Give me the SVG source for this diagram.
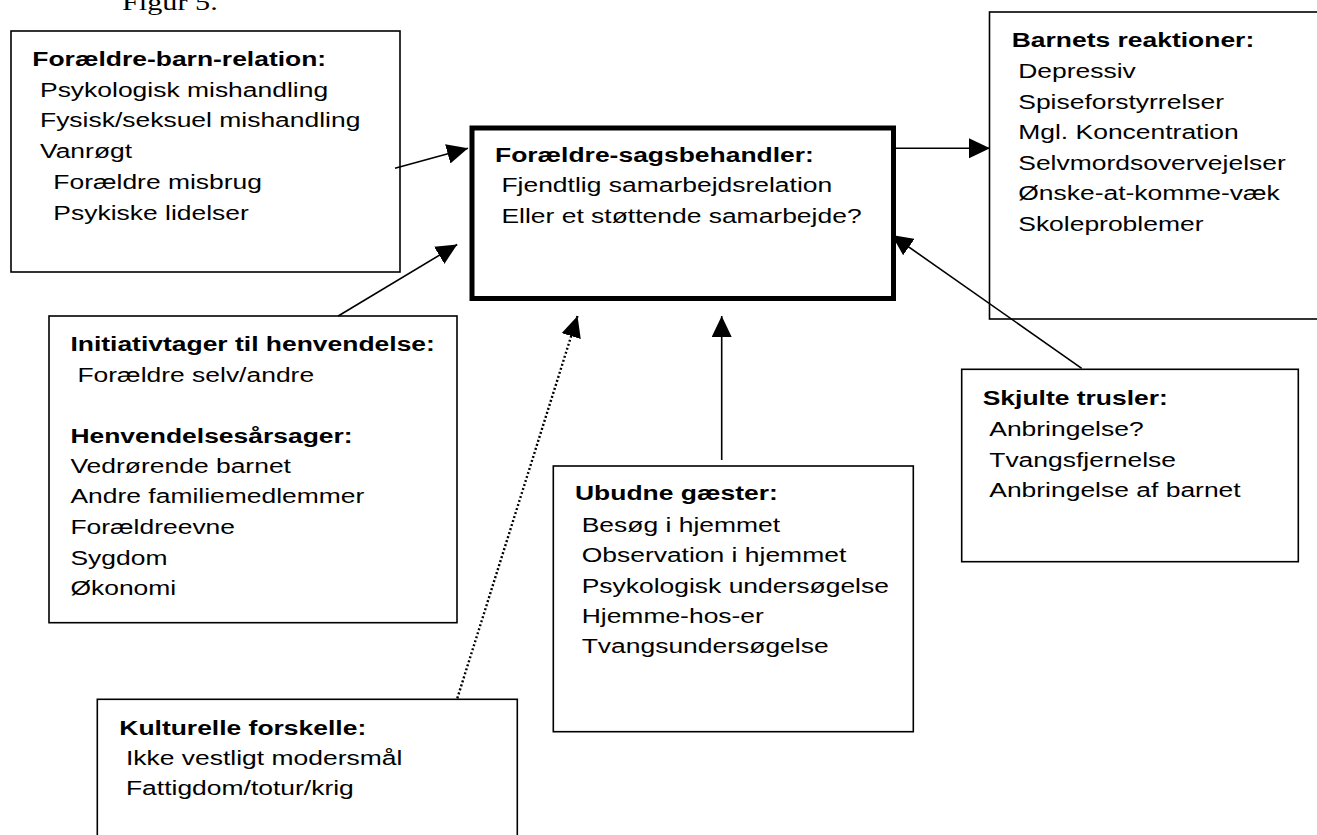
<svg xmlns="http://www.w3.org/2000/svg" width="1317" height="835" viewBox="0 0 1317 835">
<style>
.box{fill:#fff;stroke:#000;stroke-width:1.6}
.main{fill:#fff;stroke:#000;stroke-width:5}
.t{font-family:"Liberation Sans",Arial,sans-serif;font-size:21px;fill:#000}
.b{font-weight:bold}
.ln{fill:none;stroke:#000;stroke-width:1.6}
.dot{fill:none;stroke:#000;stroke-width:2.4;stroke-dasharray:2 2.2}
.fig{font-family:"Liberation Serif","Times New Roman",serif;font-size:24px;fill:#000}
</style>
<defs>
<marker id="ah" markerUnits="userSpaceOnUse" markerWidth="22" markerHeight="20" refX="21" refY="10" orient="auto" viewBox="0 0 22 20">
<path d="M0,0 L21,10 L0,20 Z" fill="#000"/>
</marker>
</defs>
<rect width="1317" height="835" fill="#fff"/>
<text class="fig" transform="matrix(1.26 0 0 1 122 10)" x="0" y="0">Figur 5.</text>

<g id="node-foraeldre-barn">
<rect class="box" x="11" y="31" width="389" height="241"/>
<g transform="matrix(1.26 0 0 1 32.3 0)">
<text class="t b" x="0" y="65.7">Forældre-barn-relation:</text>
<text class="t" x="6.1" y="96.7">Psykologisk mishandling</text>
<text class="t" x="6.1" y="127.5">Fysisk/seksuel mishandling</text>
<text class="t" x="6.1" y="158.5">Vanrøgt</text>
<text class="t" x="16.7" y="189.5">Forældre misbrug</text>
<text class="t" x="16.7" y="220.3">Psykiske lidelser</text>
</g>
</g>

<g id="node-sagsbehandler">
<rect class="main" x="472" y="128" width="421.5" height="170.5"/>
<g transform="matrix(1.26 0 0 1 495 0)">
<text class="t b" x="0" y="161.7">Forældre-sagsbehandler:</text>
<text class="t" x="5.1" y="192.5">Fjendtlig samarbejdsrelation</text>
<text class="t" x="5.1" y="223">Eller et støttende samarbejde?</text>
</g>
</g>

<g id="node-barnets">
<rect class="box" x="989.5" y="12" width="400" height="307"/>
<g transform="matrix(1.26 0 0 1 1011.7 0)">
<text class="t b" x="0" y="47.3">Barnets reaktioner:</text>
<text class="t" x="5.2" y="78.3">Depressiv</text>
<text class="t" x="5.2" y="108.7">Spiseforstyrrelser</text>
<text class="t" x="5.2" y="139.2">Mgl. Koncentration</text>
<text class="t" x="5.2" y="169.8">Selvmordsovervejelser</text>
<text class="t" x="5.2" y="200.3">Ønske-at-komme-væk</text>
<text class="t" x="5.2" y="230.7">Skoleproblemer</text>
</g>
</g>

<g id="node-initiativtager">
<rect class="box" x="49" y="316" width="408" height="306.7"/>
<g transform="matrix(1.26 0 0 1 70.4 0)">
<text class="t b" x="0" y="351">Initiativtager til henvendelse:</text>
<text class="t" x="5.6" y="381.7">Forældre selv/andre</text>
<text class="t b" x="0" y="442.7">Henvendelsesårsager:</text>
<text class="t" x="0" y="473.3">Vedrørende barnet</text>
<text class="t" x="0" y="503.5">Andre familiemedlemmer</text>
<text class="t" x="0" y="534.2">Forældreevne</text>
<text class="t" x="0" y="564.8">Sygdom</text>
<text class="t" x="0" y="595.2">Økonomi</text>
</g>
</g>

<g id="node-ubudne">
<rect class="box" x="553.3" y="466" width="360" height="265.7"/>
<g transform="matrix(1.26 0 0 1 575 0)">
<text class="t b" x="0" y="500">Ubudne gæster:</text>
<text class="t" x="5.3" y="531.7">Besøg i hjemmet</text>
<text class="t" x="5.3" y="561.9">Observation i hjemmet</text>
<text class="t" x="5.3" y="593">Psykologisk undersøgelse</text>
<text class="t" x="5.3" y="623.3">Hjemme-hos-er</text>
<text class="t" x="5.3" y="653.5">Tvangsundersøgelse</text>
</g>
</g>

<g id="node-skjulte">
<rect class="box" x="961.7" y="369.3" width="336.6" height="192.4"/>
<g transform="matrix(1.26 0 0 1 982.7 0)">
<text class="t b" x="0" y="405">Skjulte trusler:</text>
<text class="t" x="5.2" y="436">Anbringelse?</text>
<text class="t" x="5.2" y="466.7">Tvangsfjernelse</text>
<text class="t" x="5.2" y="496.9">Anbringelse af barnet</text>
</g>
</g>

<g id="node-kulturelle">
<rect class="box" x="97.3" y="699.3" width="420" height="200"/>
<g transform="matrix(1.26 0 0 1 119.3 0)">
<text class="t b" x="0" y="735">Kulturelle forskelle:</text>
<text class="t" x="5.3" y="765">Ikke vestligt modersmål</text>
<text class="t" x="5.3" y="795">Fattigdom/totur/krig</text>
</g>
</g>

<g id="connectors">
<line class="ln" x1="395" y1="168.3" x2="468" y2="148.3" marker-end="url(#ah)"/>
<line class="ln" x1="338.2" y1="316" x2="457.2" y2="244.5" marker-end="url(#ah)"/>
<line class="dot" x1="457.3" y1="698.3" x2="577.5" y2="316" marker-end="url(#ah)"/>
<line class="ln" x1="721.7" y1="460" x2="721.7" y2="316" marker-end="url(#ah)"/>
<line class="ln" x1="1081.7" y1="368.3" x2="891.7" y2="235" marker-end="url(#ah)"/>
<line class="ln" x1="896" y1="148.3" x2="990" y2="148.3" marker-end="url(#ah)"/>
</g>
</svg>
